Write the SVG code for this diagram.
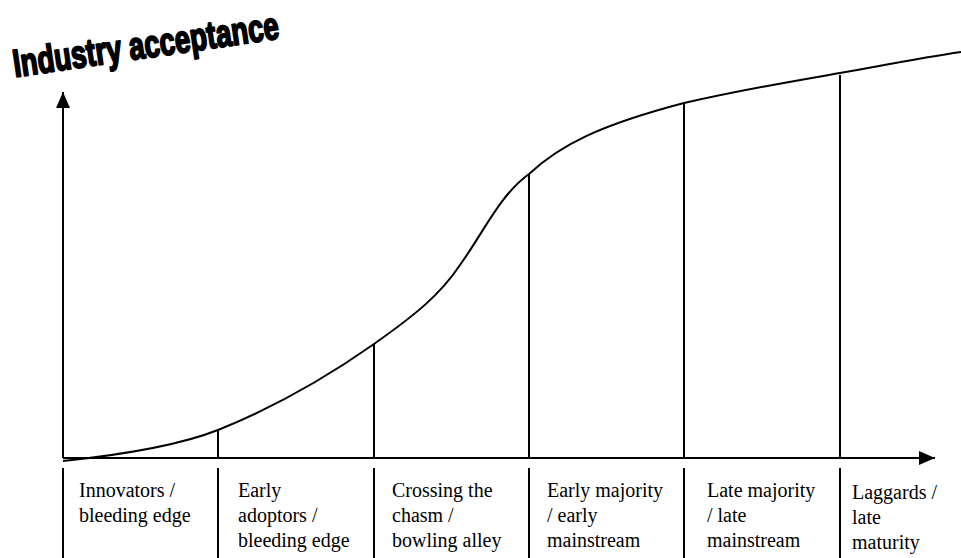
<svg xmlns="http://www.w3.org/2000/svg" width="961" height="558" viewBox="0 0 961 558">
<style>
.ln{stroke:#000;stroke-width:2;fill:none}
.lbl{font-family:"Liberation Serif","Times New Roman",serif;font-size:20px;fill:#000}
.title{font-family:"Liberation Sans",Arial,sans-serif;font-weight:900;fill:#000;stroke:#000;stroke-width:1.3;stroke-linejoin:round}
</style>
<defs>
<marker id="ah" markerWidth="16" markerHeight="14" refX="16" refY="7" orient="auto" markerUnits="userSpaceOnUse">
<path d="M0,0 L16,7 L0,14 Z" fill="#000"/>
</marker>
</defs>
<rect width="961" height="558" fill="#fff"/>
<g id="title">
<text class="title" transform="translate(15,77) rotate(-8.3) scale(1,1.55)" font-size="25" textLength="268" lengthAdjust="spacingAndGlyphs">Industry acceptance</text>
</g>
<g id="connectors">
<line class="ln" x1="63" y1="458" x2="63" y2="92" marker-end="url(#ah)"/>
<line class="ln" x1="63" y1="458" x2="935" y2="458" marker-end="url(#ah)"/>
<path id="curve" class="ln" d="M63,461 C120,455 180,445 218,430 C280,405 330,375 374,344 C415,315 440,295 460,265 C485,230 500,195 529,174 C560,145 600,125 684,103 C750,88 800,80 840,73 C880,66 920,58 961,52"/>
<g id="dividers">
<line class="ln" x1="218" y1="429" x2="218" y2="458"/>
<line class="ln" x1="374" y1="344" x2="374" y2="458"/>
<line class="ln" x1="529" y1="174" x2="529" y2="458"/>
<line class="ln" x1="684" y1="103" x2="684" y2="458"/>
<line class="ln" x1="840" y1="75" x2="840" y2="458"/>
<line class="ln" x1="63" y1="468" x2="63" y2="558"/>
<line class="ln" x1="218" y1="468" x2="218" y2="558"/>
<line class="ln" x1="374" y1="468" x2="374" y2="558"/>
<line class="ln" x1="529" y1="468" x2="529" y2="558"/>
<line class="ln" x1="684" y1="468" x2="684" y2="558"/>
<line class="ln" x1="840" y1="468" x2="840" y2="558"/>
</g>
</g>
<g id="stage1"><text class="lbl" x="79" y="497">Innovators /</text><text class="lbl" x="79" y="522">bleeding edge</text></g>
<g id="stage2"><text class="lbl" x="238" y="497">Early</text><text class="lbl" x="238" y="522">adoptors /</text><text class="lbl" x="238" y="547">bleeding edge</text></g>
<g id="stage3"><text class="lbl" x="392" y="497">Crossing the</text><text class="lbl" x="392" y="522">chasm /</text><text class="lbl" x="392" y="547">bowling alley</text></g>
<g id="stage4"><text class="lbl" x="547" y="497">Early majority</text><text class="lbl" x="547" y="522">/ early</text><text class="lbl" x="547" y="547">mainstream</text></g>
<g id="stage5"><text class="lbl" x="707" y="497">Late majority</text><text class="lbl" x="707" y="522">/ late</text><text class="lbl" x="707" y="547">mainstream</text></g>
<g id="stage6"><text class="lbl" x="852" y="499">Laggards /</text><text class="lbl" x="852" y="524">late</text><text class="lbl" x="852" y="549">maturity</text></g>
</svg>
